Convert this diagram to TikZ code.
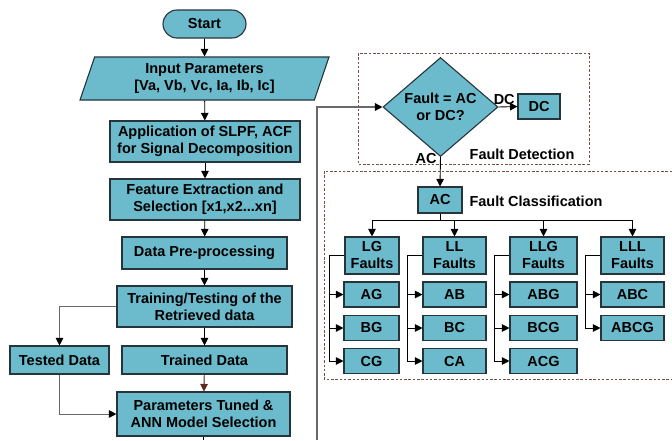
\documentclass[tikz,border=0pt]{standalone}
\usepackage{fontspec}
\setmainfont{Liberation Sans}
\usetikzlibrary{shapes.geometric,arrows.meta}
\definecolor{boxTeal}{RGB}{107,187,204}
\definecolor{boxEdge}{RGB}{38,52,60}
\definecolor{frameBrown}{RGB}{122,78,70}
\definecolor{linkBrown}{RGB}{92,42,32}
\definecolor{loopGrey}{RGB}{105,105,105}

\tikzset{
  flowbox/.style={draw=boxEdge, fill=boxTeal, line width=1.1pt, inner sep=0pt,
    align=center, font=\bfseries\fontsize{14.5}{17}\selectfont},
  lbl/.style={inner sep=1.5pt, font=\bfseries\fontsize{14.5}{17}\selectfont},
  arr/.style={-{Triangle[length=7.5pt,width=7.5pt]}, line width=0.9pt},
  greyarr/.style={-{Triangle[length=7.5pt,width=7.5pt,color=black]}, draw=loopGrey, line width=0.9pt},
  frame/.style={draw=frameBrown, line width=0.8pt, dash pattern=on 2.5pt off 1.8pt}
}

\begin{document}
\begin{tikzpicture}[x=1pt, y=-1pt]
\useasboundingbox (0,0) rectangle (672,440);

% main flow
\node[flowbox, rounded corners=14pt, minimum width=83pt, minimum height=28pt] (start) at (204.5,24) {Start};
\node[flowbox, trapezium, trapezium left angle=64, trapezium right angle=116,
      trapezium stretches body, minimum width=249pt, minimum height=43pt] (input) at (204.5,78.5)
  {Input Parameters\\{}[Va, Vb, Vc, Ia, Ib, Ic]};
\node[flowbox, minimum width=190pt, minimum height=41pt] (decomp) at (205,141.5)
  {Application of SLPF, ACF\\for Signal Decomposition};
\node[flowbox, minimum width=190pt, minimum height=41pt] (feature) at (205,199.5)
  {Feature Extraction and\\Selection [x1,x2...xn]};
\node[flowbox, minimum width=165pt, minimum height=32pt] (prep) at (204.5,253) {Data Pre-processing};
\node[flowbox, minimum width=175pt, minimum height=41pt] (train) at (204.5,306.5)
  {Training/Testing of the\\Retrieved data};
\node[flowbox, minimum width=99pt, minimum height=28pt] (tested) at (59.5,360) {Tested Data};
\node[flowbox, minimum width=165pt, minimum height=28pt] (trained) at (204.5,360) {Trained Data};
\node[flowbox, minimum width=173pt, minimum height=44pt] (params) at (203.5,414)
  {Parameters Tuned \&\\ANN Model Selection};
\coordinate (paramsEnd) at (203.5,440);
\coordinate (loopEnd) at (317,440);

\draw[arr] (start) -- (input);
\draw[arr] (input) -- (decomp);
\draw[arr] (decomp) -- (feature);
\draw[arr] (feature) -- (prep);
\draw[arr] (prep) -- (train);
\draw[arr] (train) -- (trained);
\draw[greyarr] (train.west) -| (tested.north);
\draw[arr, draw=linkBrown, fill=linkBrown] (trained) -- (params);
\draw[greyarr] (tested.south) |- (params.west);
\draw[line width=0.9pt] (params.south) -- (paramsEnd);

% fault detection
\draw[frame] (358,53) rectangle (589,164);
\node[flowbox, diamond, aspect=1.16, minimum width=115pt, minimum height=99pt] (fault) at (440.5,107)
  {Fault = AC\\or DC?};
\node[flowbox, minimum width=42pt, minimum height=25pt] (dc) at (539,106.5) {DC};
\node[lbl] (detTitle) at (522,154) {Fault Detection};
\draw[greyarr, line width=1.4pt] (loopEnd) |- (fault.west);
\draw[arr] (fault.east) -- node[lbl, above, pos=0.3] {DC} (dc.west);

% fault classification
\draw[frame] (324,171) rectangle (690,379);
\node[flowbox, minimum width=44pt, minimum height=26pt] (acbox) at (440,200) {AC};
\node[lbl] (clsTitle) at (536,201) {Fault Classification};
\draw[arr] (fault.south) -- node[lbl, anchor=east, pos=0.04, xshift=-2pt] {AC} (acbox.north);

\node[flowbox, minimum width=54pt, minimum height=37pt] (lg) at (372,255.5) {LG\\Faults};
\node[flowbox, minimum width=63pt, minimum height=37pt] (ll) at (454.5,255.5) {LL\\Faults};
\node[flowbox, minimum width=67pt, minimum height=37pt] (llg) at (543.5,255.5) {LLG\\Faults};
\node[flowbox, minimum width=63pt, minimum height=37pt] (lll) at (632.5,255.5) {LLL\\Faults};

\draw[line width=0.9pt] (acbox.south) -- ++(0,7) coordinate (acBus);
\foreach \g in {lg,ll,llg,lll}
  \draw[arr] (acBus) -| (\g.north);

\foreach \n/\x/\y/\w/\t in {lgA/371.5/294.5/55/AG, lgB/371.5/328/55/BG, lgC/371.5/361/55/CG,
    llA/454.5/294.5/63/AB, llB/454.5/328/63/BC, llC/454.5/361/63/CA,
    llgA/543.5/294.5/67/ABG, llgB/543.5/328/67/BCG, llgC/543.5/361/67/ACG,
    lllA/632.5/294.5/63/ABC, lllB/632.5/328/63/ABCG}
  \node[flowbox, minimum width=\w pt, minimum height=25pt] (\n) at (\x,\y) {\t};

\foreach \g/\kids in {lg/{lgA,lgB,lgC}, ll/{llA,llB,llC}, llg/{llgA,llgB,llgC}, lll/{lllA,lllB}} {
  \draw[line width=0.8pt] (\g.west) -- ++(-15,0) coordinate (\g-turn);
  \foreach \k in \kids
    \draw[arr, line width=0.8pt] (\g-turn) |- (\k.west);
}
\end{tikzpicture}
\end{document}
